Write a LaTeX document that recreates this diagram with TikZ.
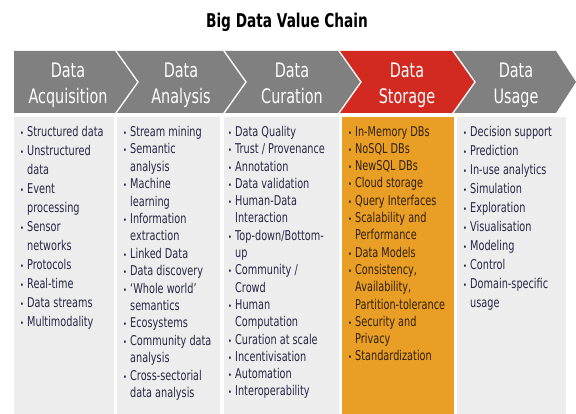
\documentclass[tikz,border=0pt]{standalone}
\usepackage{fontspec}
\setmainfont{DejaVu Sans}[FakeStretch=0.72]
\usetikzlibrary{positioning}
\definecolor{chevgray}{RGB}{128,128,128}
\definecolor{chevred}{RGB}{210,42,32}
\definecolor{boxgray}{RGB}{237,237,237}
\definecolor{boxorange}{RGB}{233,158,38}
\definecolor{itemblue}{RGB}{38,38,68}
\definecolor{itembrown}{RGB}{48,32,8}
\newcommand{\bul}{\makebox[7pt][l]{\fontsize{9}{9}\selectfont\textbullet}}
\newcommand{\cnt}{\hspace*{7pt}}
% #1 left x, #2 top-right x, #3 notch depth, #4 tip depth, #5 colour
\newcommand{\chevpath}[5]{\fill[#5] (#1,51) -- (#2,51) -- (#2+#4,82) -- (#2,113) -- (#1,113) -- (#1+#3,82) -- cycle;}

\begin{document}
\begin{tikzpicture}[x=1pt, y=-1pt,
  colbox/.style={anchor=north west, inner sep=0pt, outer sep=0pt, minimum height=297pt},
  chevtext/.style={text=white, align=center, inner sep=0pt, font=\fontsize{20}{26}\selectfont},
  itemlist/.style={anchor=north west, inner sep=0pt, align=left, text=itemblue, font=\fontsize{13.5}{#1}\selectfont}
]
  \fill[white] (0,0) rectangle (576,414);
  \useasboundingbox (0,0) rectangle (576,414);

  \node[font=\bfseries\fontsize{19}{22}\selectfont] (title) at (287,22) {Big Data Value Chain};

  % chain of stages
  \chevpath{14}{115}{0}{22}{chevgray}
  \chevpath{117}{223}{22}{22}{chevgray}
  \chevpath{225}{338}{22}{22}{chevgray}
  \chevpath{340}{452}{22}{22}{chevred}
  \chevpath{454}{556}{22}{20}{chevgray}

  \node[chevtext] (acq) at (68,85) {Data\strut\\Acquisition\strut};
  \node[chevtext] (ana) at (181,85) {Data\strut\\Analysis\strut};
  \node[chevtext] (cur) at (292,85) {Data\strut\\Curation\strut};
  \node[chevtext] (sto) at (407,85) {Data\strut\\Storage\strut};
  \node[chevtext] (use) at (516,85) {Data\strut\\Usage\strut};

  % columns under each stage
  \node[colbox, fill=boxgray, minimum width=100pt] (acqbox) at (14,117) {};
  \node[colbox, fill=boxgray, minimum width=103pt] (anabox) at (117,117) {};
  \node[colbox, fill=boxgray, minimum width=115pt] (curbox) at (224,117) {};
  \node[colbox, fill=boxorange, minimum width=112pt] (stobox) at (342,117) {};
  \node[colbox, fill=boxgray, minimum width=109pt] (usebox) at (457,117) {};

  \node[itemlist=19pt] (acqlist) at (20,126) {
    \bul Structured data\\
    \bul Unstructured\\
    \cnt data\\
    \bul Event\\
    \cnt processing\\
    \bul Sensor\\
    \cnt networks\\
    \bul Protocols\\
    \bul Real-time\\
    \bul Data streams\\
    \bul Multimodality
  };
  \node[itemlist=17.4pt] (analist) at (123,126) {
    \bul Stream mining\\
    \bul Semantic\\
    \cnt analysis\\
    \bul Machine\\
    \cnt learning\\
    \bul Information\\
    \cnt extraction\\
    \bul Linked Data\\
    \bul Data discovery\\
    \bul `Whole world'\\
    \cnt semantics\\
    \bul Ecosystems\\
    \bul Community data\\
    \cnt analysis\\
    \bul Cross-sectorial\\
    \cnt data analysis
  };
  \node[itemlist=17.3pt] (curlist) at (228,126) {
    \bul Data Quality\\
    \bul Trust / Provenance\\
    \bul Annotation\\
    \bul Data validation\\
    \bul Human-Data\\
    \cnt Interaction\\
    \bul Top-down/Bottom-\\
    \cnt up\\
    \bul Community /\\
    \cnt Crowd\\
    \bul Human\\
    \cnt Computation\\
    \bul Curation at scale\\
    \bul Incentivisation\\
    \bul Automation\\
    \bul Interoperability
  };
  \node[itemlist=17.3pt, text=itembrown] (stolist) at (348,126) {
    \bul In-Memory DBs\\
    \bul NoSQL DBs\\
    \bul NewSQL DBs\\
    \bul Cloud storage\\
    \bul Query Interfaces\\
    \bul Scalability and\\
    \cnt Performance\\
    \bul Data Models\\
    \bul Consistency,\\
    \cnt Availability,\\
    \cnt Partition-tolerance\\
    \bul Security and\\
    \cnt Privacy\\
    \bul Standardization
  };
  \node[itemlist=19pt] (uselist) at (463,126) {
    \bul Decision support\\
    \bul Prediction\\
    \bul In-use analytics\\
    \bul Simulation\\
    \bul Exploration\\
    \bul Visualisation\\
    \bul Modeling\\
    \bul Control\\
    \bul Domain-specific\\
    \cnt usage
  };
\end{tikzpicture}
\end{document}
